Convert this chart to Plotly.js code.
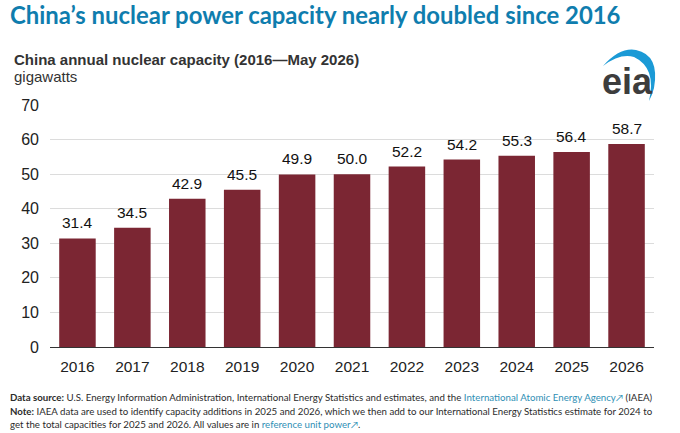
<!DOCTYPE html>
<html><head><meta charset="utf-8">
<script src="https://cdn.plot.ly/plotly-3.0.1.min.js"></script>
<style>html,body{margin:0;padding:0;background:#fff}#c{width:680px;height:433px}</style>
</head><body><div id="c"></div>
<script>
const years = ["2016","2017","2018","2019","2020","2021","2022","2023","2024","2025","2026"];
const capacity = [31.4,34.5,42.9,45.5,49.9,50.0,52.2,54.2,55.3,56.4,58.7];
const labels = ["31.4","34.5","42.9","45.5","49.9","50.0","52.2","54.2","55.3","56.4","58.7"];
const W=680,H=433,L=50,R=654,T=105,B=347;
const sans='"Liberation Sans", Arial, sans-serif', lato='Lato, "Open Sans", sans-serif';
function txt(x,y,text,size,color,fam){return {xref:'paper',yref:'paper',x:(x-L)/(R-L),y:(B-y)/(B-T),xanchor:'left',yanchor:'middle',showarrow:false,align:'left',text:text,font:{size:size,color:color,family:fam}};}
const foot='#2b2b2b', link='#2f8fb5';
const annotations=[
 txt(8,14,'<b>China’s nuclear power capacity nearly doubled since 2016</b>',23.9,'#0f7dae',lato),
 txt(12,59.5,'<b>China annual nuclear capacity (2016—May 2026)</b>',15,'#333333',sans),
 txt(12,77,'gigawatts',15,'#333333',sans),
 txt(600,81,'<b>eia</b>',36,'#3d3d3d',sans),
 txt(8,396.5,'<b>Data source:</b> U.S. Energy Information Administration, International Energy Statistics and estimates, and the <span style="color:'+link+'">International Atomic Energy Agency↗</span> (IAEA)',9.7,foot,lato),
 txt(8,410.5,'<b>Note:</b> IAEA data are used to identify capacity additions in 2025 and 2026, which we then add to our International Energy Statistics estimate for 2024 to',9.7,foot,lato),
 txt(8,424,'get the total capacities for 2025 and 2026. All values are in <span style="color:'+link+'">reference unit power↗</span>.',9.7,foot,lato)
];
years.forEach((yr,i)=>annotations.push({xref:'x',yref:'y',x:i,y:capacity[i],text:labels[i],showarrow:false,yanchor:'bottom',yshift:5,font:{size:15.5,color:'#111',family:sans}}));
const P=(x,y)=>((x-L)/(R-L)).toFixed(4)+','+((B-y)/(B-T)).toFixed(4);
const arc='M'+P(603,66)+' Q'+P(620,47)+' '+P(636,50)+' Q'+P(660,55)+' '+P(654,88)+' Q'+P(652,96)+' '+P(649,101)+' Q'+P(657,68)+' '+P(634,57)+' Q'+P(620,53)+' '+P(603,66)+' Z';
const shapes=[{type:'path',xref:'paper',yref:'paper',path:arc,fillcolor:'#1b9ad6',line:{width:0}}];
Plotly.newPlot('c',[{type:'bar',x:years,y:capacity,marker:{color:'#7b2633'},hoverinfo:'x+y'}],{
 width:W,height:H,margin:{l:L,r:W-R,t:T,b:H-B,pad:0},paper_bgcolor:'#fff',plot_bgcolor:'#fff',bargap:0.335,showlegend:false,
 xaxis:{type:'category',range:[-0.5,10.5],categoryorder:'array',categoryarray:years,showgrid:false,showline:true,linecolor:'#333',linewidth:1,ticks:'',tickfont:{size:15.5,color:'#222',family:sans},ticklen:0,ticklabelstandoff:5,automargin:false},
 yaxis:{range:[0,70],tick0:0,dtick:10,showgrid:true,gridcolor:'#dcdcdc',gridwidth:1,zeroline:false,showline:false,ticks:'',ticklen:0,ticklabelstandoff:10,tickfont:{size:16,color:'#222',family:sans},automargin:false},
 annotations:annotations,shapes:shapes
},{displayModeBar:false,staticPlot:true});
</script></body></html>
